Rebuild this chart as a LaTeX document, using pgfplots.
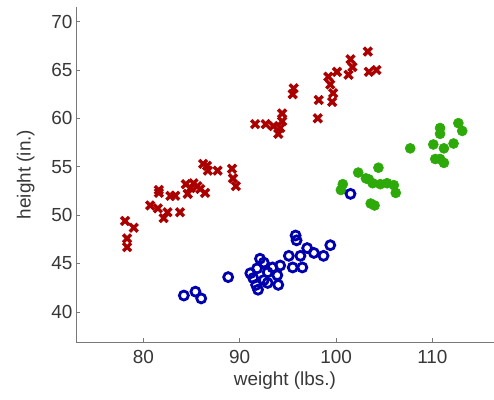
\documentclass[border=0pt]{standalone}
\usepackage{fontspec}
\setmainfont{Liberation Sans}
\usepackage{pgfplots}
\pgfplotsset{compat=1.18}
\usetikzlibrary{calc}
\definecolor{cred}{RGB}{170,0,0}
\definecolor{cgreen}{RGB}{45,170,10}
\definecolor{cblue}{RGB}{0,0,175}
\definecolor{txt}{RGB}{55,55,55}
\definecolor{axc}{RGB}{120,120,120}
\begin{document}
\begin{tikzpicture}[x=1bp,y=1bp]
\begin{axis}[
  scale only axis,
  width=418bp, height=335bp,
  xmin=73, xmax=116.4, ymin=36.9, ymax=71.5,
  axis x line=bottom, axis y line=left,
  axis line style={-, draw=axc, line width=1bp},
  xtick={80,90,100,110}, ytick={40,45,...,70},
  tick align=inside, major tick length=4bp,
  tick style={draw=axc, line width=0.8bp},
  tick label style={font=\fontsize{19}{22}\selectfont, text=txt},
  /pgf/number format/assume math mode=true,
  xlabel={weight (lbs.)}, ylabel={height (in.)},
  label style={font=\fontsize{19}{22}\selectfont, text=txt},
  xlabel style={yshift=-1bp},
  ylabel style={yshift=10bp},
  xticklabel style={yshift=-5bp},
  clip=false,
]
\addplot[only marks, mark=x, mark size=5.6bp, cred, line width=3.4bp] coordinates {
(78.1,49.4) (79.0,48.7) (78.3,47.6) (78.3,46.7) (80.7,51.0) (81.6,52.3)
(81.6,52.6) (81.5,50.7) (82.1,49.7) (82.5,50.3) (83.3,52.0) (83.8,50.3)
(84.4,53.2) (84.9,52.8) (85.2,53.3) (85.9,52.7) (86.4,52.3) (86.6,55.1)
(86.7,54.6) (87.7,54.6) (89.2,54.8) (89.3,53.8) (89.6,53.0) (85.6,53.0)
(86.2,55.3) (84.6,52.2) (82.8,52.0)
(91.6,59.4) (92.7,59.4) (93.5,59.2) (94.4,60.5) (94.2,59.0) (94.4,59.7)
(94.0,58.4) (95.6,63.1) (95.5,62.5) (98.2,61.9) (98.1,60.0) (99.2,64.3)
(100.1,64.8) (99.4,63.5) (99.6,61.7) (99.7,62.6) (101.5,66.1) (101.3,64.5)
(101.7,65.3) (103.3,66.9) (103.4,64.8) (104.2,65.0)
};
\addplot[only marks, mark=*, mark size=5bp, color=cgreen, mark options={draw=cgreen, fill=cgreen, line width=0.6bp}] coordinates {
(100.7,53.2) (100.5,52.6) (102.3,54.4) (103.1,53.8) (104.4,54.9) (103.8,53.3)
(104.6,53.2) (105.3,53.3) (106.0,53.1) (106.2,52.3) (103.6,51.2) (104.0,51.0)
(103.4,53.7)
(107.7,56.9) (110.1,57.3) (110.8,59.0) (110.8,58.4) (111.2,56.9) (112.2,57.4)
(112.7,59.5) (113.1,58.7) (110.3,55.8) (111.2,55.4) (110.8,55.8)
};
\addplot[only marks, mark=o, mark size=4.5bp, cblue, line width=2.8bp] coordinates {
(84.2,41.7) (85.4,42.1) (86.0,41.4) (88.8,43.6) (95.8,47.9) (95.9,47.4)
(91.9,42.3) (91.7,42.8) (91.4,43.5) (91.8,44.5) (92.1,45.5) (92.5,45.1)
(92.5,43.3) (92.9,44.1) (92.9,43.0) (93.4,44.6) (93.9,43.8) (94.0,42.8)
(94.2,44.8) (95.1,45.8) (95.5,44.6) (96.5,44.6) (97.0,46.6) (97.7,46.1)
(98.7,45.8) (99.4,46.9) (101.5,52.2) (91.1,44.0) (96.3,45.8)
};
\coordinate (ll) at (rel axis cs:0,0);
\coordinate (ur) at (rel axis cs:1,1);
\end{axis}
\pgfresetboundingbox
\path ($(ll)+(-76bp,-58bp)$) rectangle ($(ur)+(0bp,7bp)$);
\end{tikzpicture}
\end{document}
